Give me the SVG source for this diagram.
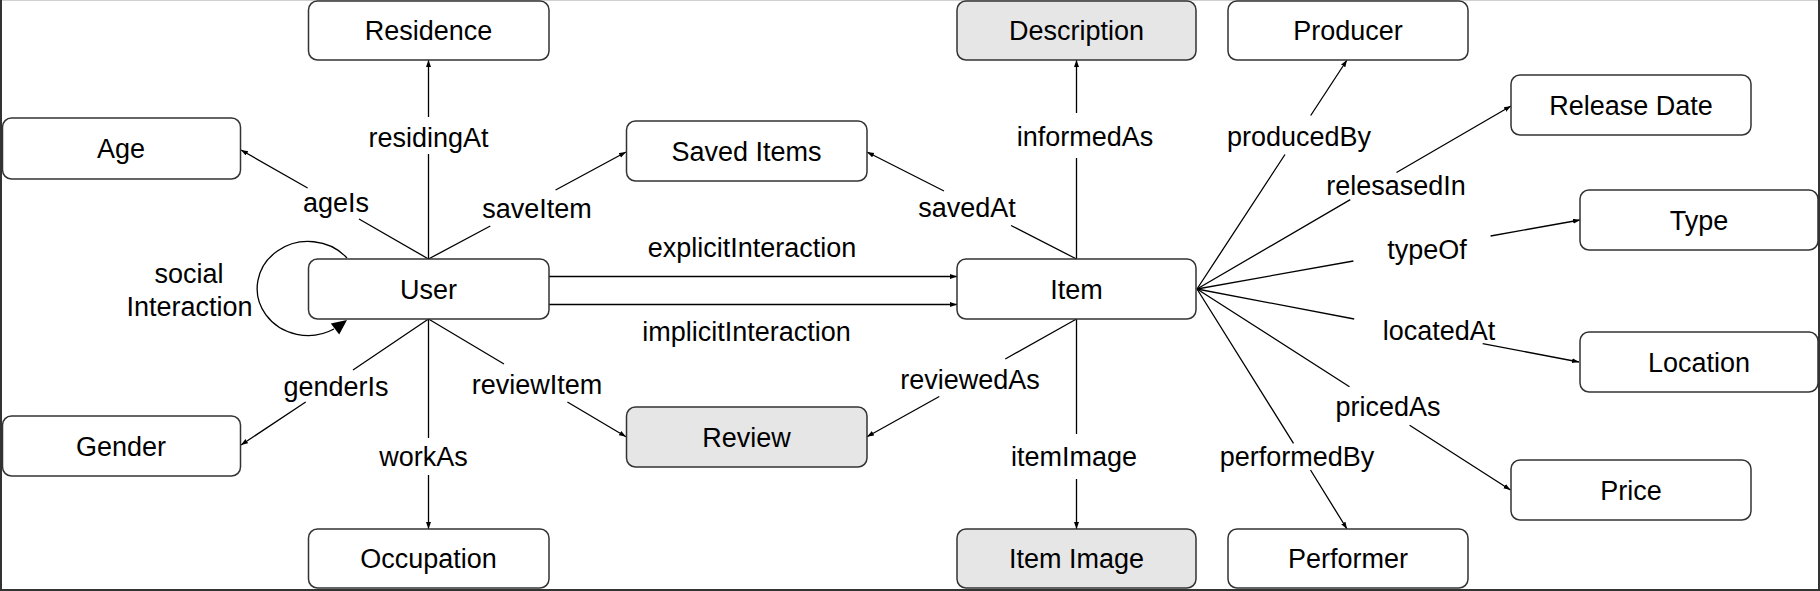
<svg xmlns="http://www.w3.org/2000/svg" width="1820" height="591" viewBox="0 0 1820 591">
<style>
  .box { fill: #ffffff; stroke: #333333; stroke-width: 1.5; }
  .grey { fill: #e6e6e6; }
  .nt { font-family: "Liberation Sans", Arial, sans-serif; font-size: 27px; fill: #000000; text-anchor: middle; }
  .edge { fill: none; stroke: #000000; stroke-width: 1.3; marker-end: url(#arr); }
  .lbl { font-family: "Liberation Sans", Arial, sans-serif; font-size: 27px; fill: #000000; text-anchor: middle; }
</style>
<defs>
  <marker id="arr" markerUnits="userSpaceOnUse" markerWidth="8" markerHeight="6" refX="7" refY="2.5" orient="auto">
    <path d="M0,0 L7,2.5 L0,5 z" fill="#000000"/>
  </marker>
</defs>
<rect x="0" y="0" width="1820" height="591" fill="#ffffff"/>
<g id="frame" fill="none">
  <line x1="0" y1="0.5" x2="1820" y2="0.5" stroke="#d0d0d0" stroke-width="1"/>
  <line x1="1" y1="0" x2="1" y2="591" stroke="#333333" stroke-width="2"/>
  <line x1="1819" y1="0" x2="1819" y2="591" stroke="#333333" stroke-width="2"/>
  <line x1="0" y1="590" x2="1820" y2="590" stroke="#333333" stroke-width="2"/>
</g>
<g id="connectors">
  <g id="e-residingAt"><path class="edge" d="M428.5,259 L428.5,154 M428.5,117 L428.5,60"/><text class="lbl" x="428.5" y="147">residingAt</text></g>
  <g id="e-ageIs"><path class="edge" d="M428.5,259 L359,219 M307.6,188 L241,150"/><text class="lbl" x="336" y="212">ageIs</text></g>
  <g id="e-saveItem"><path class="edge" d="M428.5,259 L490.3,226 M555.6,190 L626,152"/><text class="lbl" x="537" y="218">saveItem</text></g>
  <g id="e-social"><path d="M347,258 A51,47 0 1 0 334,329" fill="none" stroke="#000000" stroke-width="1.3"/><polygon points="347,320 339.2,334.6 330.8,323.4" fill="#000000"/><text class="lbl" x="189" y="283">social</text><text class="lbl" x="189.5" y="316">Interaction</text></g>
  <g id="e-genderIs"><path class="edge" d="M428.5,319 L353,370 M305.7,402 L241,445"/><text class="lbl" x="336" y="396">genderIs</text></g>
  <g id="e-workAs"><path class="edge" d="M428.5,319 L428.5,438 M428.5,475 L428.5,529"/><text class="lbl" x="423.5" y="466">workAs</text></g>
  <g id="e-reviewItem"><path class="edge" d="M428.5,319 L504,364 M567.4,402 L626,436.7"/><text class="lbl" x="537" y="394">reviewItem</text></g>
  <g id="e-explicit"><path class="edge" d="M549,276.5 L957,276.5"/><text class="lbl" x="752" y="257">explicitInteraction</text></g>
  <g id="e-implicit"><path class="edge" d="M549,304.5 L957,304.5"/><text class="lbl" x="746.5" y="341">implicitInteraction</text></g>
  <g id="e-savedAt"><path class="edge" d="M1076.5,259 L1011,225.5 M944,191 L867,152"/><text class="lbl" x="967" y="217">savedAt</text></g>
  <g id="e-informedAs"><path class="edge" d="M1076.5,259 L1076.5,158 M1076.5,113 L1076.5,60"/><text class="lbl" x="1085" y="146">informedAs</text></g>
  <g id="e-reviewedAs"><path class="edge" d="M1076.5,319 L1005.3,359 M939.3,396.5 L867,436.7"/><text class="lbl" x="970" y="389">reviewedAs</text></g>
  <g id="e-itemImage"><path class="edge" d="M1076.5,319 L1076.5,434 M1076.5,479 L1076.5,529"/><text class="lbl" x="1074" y="466">itemImage</text></g>
  <g id="e-producedBy"><path class="edge" d="M1197,289 L1285,154.5 M1310.7,115.5 L1347,60"/><text class="lbl" x="1299" y="146">producedBy</text></g>
  <g id="e-relesasedIn"><path class="edge" d="M1197,289 L1350.3,199.6 M1396.5,172.5 L1511,106"/><text class="lbl" x="1396" y="195">relesasedIn</text></g>
  <g id="e-typeOf"><path class="edge" d="M1197,289 L1353.4,261 M1490.6,236 L1580,220"/><text class="lbl" x="1427" y="259">typeOf</text></g>
  <g id="e-locatedAt"><path class="edge" d="M1197,289 L1354.2,319 M1482.7,343.6 L1579,362"/><text class="lbl" x="1439" y="340">locatedAt</text></g>
  <g id="e-pricedAs"><path class="edge" d="M1197,289 L1349.5,386.8 M1409.6,425.3 L1510.5,490"/><text class="lbl" x="1388" y="416">pricedAs</text></g>
  <g id="e-performedBy"><path class="edge" d="M1197,289 L1293.5,443.3 M1310.5,470 L1347,529"/><text class="lbl" x="1297" y="466">performedBy</text></g>
</g>
<g id="n-residence"><rect class="box" x="308.5" y="1" width="240.5" height="59" rx="9"/><text class="nt" x="428.5" y="40">Residence</text></g>
<g id="n-age"><rect class="box" x="2.5" y="118" width="238" height="61" rx="9"/><text class="nt" x="121" y="158">Age</text></g>
<g id="n-user"><rect class="box" x="308.5" y="259" width="240.5" height="60" rx="9"/><text class="nt" x="428.5" y="299">User</text></g>
<g id="n-gender"><rect class="box" x="2.5" y="416" width="238" height="60" rx="9"/><text class="nt" x="121" y="456">Gender</text></g>
<g id="n-occupation"><rect class="box" x="308.5" y="529" width="240.5" height="59" rx="9"/><text class="nt" x="428.5" y="568">Occupation</text></g>
<g id="n-saved"><rect class="box" x="626.5" y="121" width="240.5" height="60" rx="9"/><text class="nt" x="746.5" y="161">Saved Items</text></g>
<g id="n-review"><rect class="box grey" x="626.5" y="407" width="240.5" height="60" rx="9"/><text class="nt" x="746.5" y="447">Review</text></g>
<g id="n-description"><rect class="box grey" x="957" y="1" width="239" height="59" rx="9"/><text class="nt" x="1076.5" y="40">Description</text></g>
<g id="n-item"><rect class="box" x="957" y="259" width="239" height="60" rx="9"/><text class="nt" x="1076.5" y="299">Item</text></g>
<g id="n-itemimage"><rect class="box grey" x="957" y="529" width="239" height="59" rx="9"/><text class="nt" x="1076.5" y="568">Item Image</text></g>
<g id="n-producer"><rect class="box" x="1228" y="1" width="240" height="59" rx="9"/><text class="nt" x="1348" y="40">Producer</text></g>
<g id="n-releasedate"><rect class="box" x="1511" y="75" width="240" height="60" rx="9"/><text class="nt" x="1631" y="115">Release Date</text></g>
<g id="n-type"><rect class="box" x="1580" y="190" width="238" height="60" rx="9"/><text class="nt" x="1699" y="230">Type</text></g>
<g id="n-location"><rect class="box" x="1580" y="332" width="238" height="60" rx="9"/><text class="nt" x="1699" y="372">Location</text></g>
<g id="n-price"><rect class="box" x="1511" y="460" width="240" height="60" rx="9"/><text class="nt" x="1631" y="500">Price</text></g>
<g id="n-performer"><rect class="box" x="1228" y="529" width="240" height="59" rx="9"/><text class="nt" x="1348" y="568">Performer</text></g>
</svg>
